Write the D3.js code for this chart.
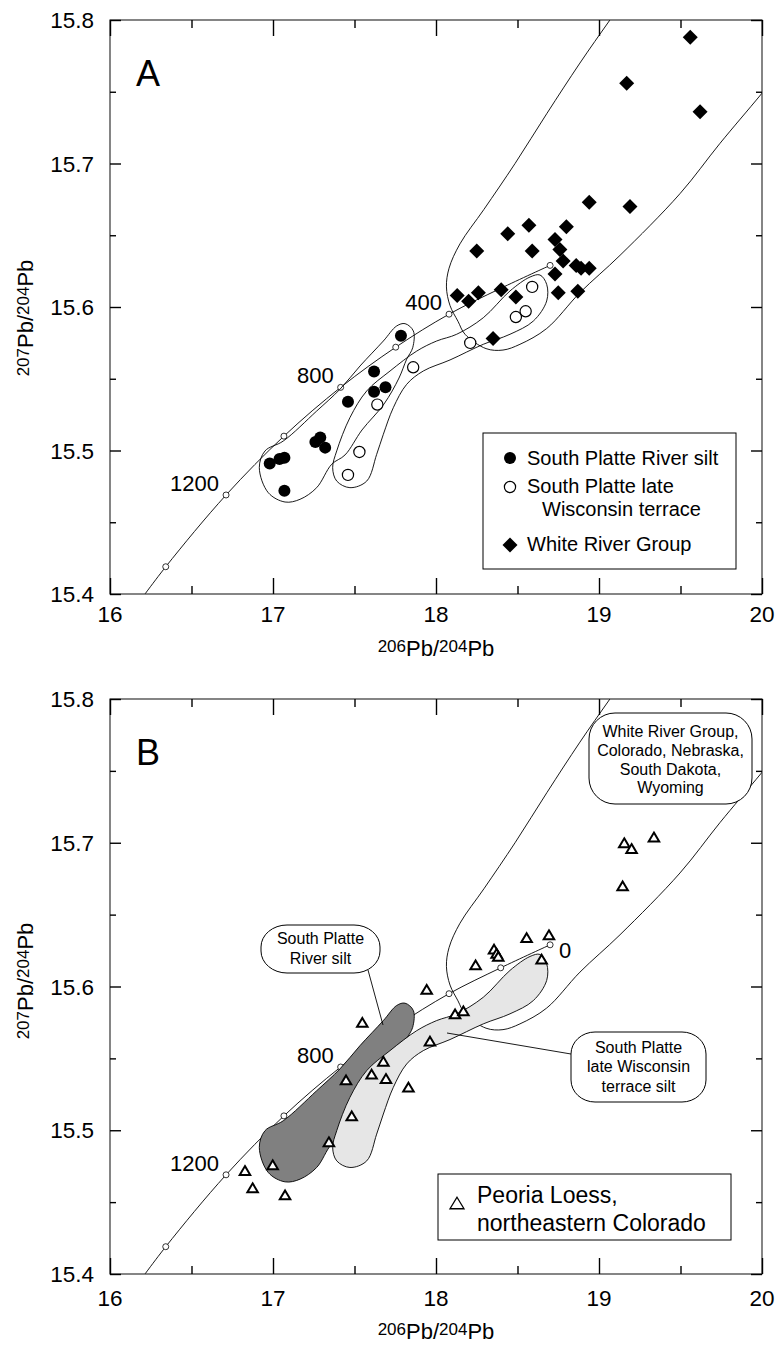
<!DOCTYPE html>
<html>
<head>
<meta charset="utf-8">
<script src="https://cdn.jsdelivr.net/npm/d3@7"></script>
<style>
  body { margin: 0; background: #fff; }
  svg { display: block; }
  text { font-family: "Liberation Sans", Arial, Helvetica, sans-serif; fill: #000; }
</style>
</head>
<body>
<div id="chart"></div>
<script>
// ---- data ----
const xDomain = [16, 20];
const yDomain = [15.4, 15.8];
const xMajor = [16, 17, 18, 19, 20];
const xMinor = [16.5, 17.5, 18.5, 19.5];
const yMajor = [15.4, 15.5, 15.6, 15.7, 15.8];
const yMinor = [15.45, 15.55, 15.65, 15.75];

// 206Pb/204Pb, 207Pb/204Pb
const riverSilt = [[16.98,15.491],[17.04,15.494],[17.07,15.495],[17.07,15.472],[17.26,15.506],
  [17.29,15.509],[17.32,15.502],[17.46,15.534],[17.62,15.555],[17.62,15.541],[17.69,15.544],[17.785,15.580]];
const terrace = [[17.64,15.532],[17.53,15.499],[17.46,15.483],[17.86,15.558],[18.21,15.575],
  [18.49,15.593],[18.55,15.597],[18.59,15.614]];
const whiteRiver = [[19.56,15.788],[19.17,15.756],[19.62,15.736],[18.94,15.673],[19.19,15.670],
  [18.25,15.639],[18.44,15.651],[18.57,15.657],[18.80,15.656],[18.59,15.639],[18.73,15.647],
  [18.76,15.640],[18.78,15.632],[18.86,15.629],[18.89,15.627],[18.94,15.627],[18.73,15.623],
  [18.13,15.608],[18.20,15.604],[18.26,15.610],[18.40,15.612],[18.49,15.607],[18.75,15.610],
  [18.87,15.611],[18.35,15.578]];
const peoriaLoess = [[19.155,15.700],[19.200,15.696],[19.337,15.704],[19.145,15.670],[18.556,15.634],
  [18.693,15.636],[18.356,15.626],[18.372,15.623],[18.382,15.621],[18.243,15.615],[18.648,15.619],
  [17.943,15.598],[17.548,15.575],[18.117,15.581],[18.168,15.583],[17.963,15.562],[17.677,15.548],
  [17.605,15.539],[17.693,15.536],[17.448,15.535],[17.831,15.530],[17.483,15.510],[17.343,15.492],
  [16.998,15.476],[16.875,15.460],[17.074,15.455],[16.828,15.472]];

// growth curve: age (Ma), 206/204, 207/204
const growthCurve = [[0,18.700,15.629],[200,18.397,15.613],[400,18.080,15.595],[600,17.753,15.572],
  [800,17.415,15.544],[1000,17.067,15.510],[1200,16.712,15.469],[1400,16.342,15.419]];
const growthTail = [16.15, 15.39]; // curve runs on past the axis
const ageLabelsA = [1200, 800, 400];
const ageLabelsB = [1200, 800, 0];

// field outlines
const riverSiltEnvelope = [[17.810,15.5884],[17.861,15.5833],[17.857,15.5716],[17.820,15.5636],
  [17.773,15.5505],[17.681,15.5324],[17.546,15.5143],[17.442,15.4969],[17.360,15.4904],[17.268,15.4741],
  [17.166,15.4660],[17.074,15.4641],[16.971,15.4706],[16.916,15.4880],[16.951,15.4997],[17.063,15.5066],
  [17.268,15.5275],[17.411,15.5427],[17.534,15.5589],[17.677,15.5763],[17.759,15.5868]];
const terraceEnvelope = [[18.638,15.6223],[18.679,15.6158],[18.679,15.6042],[18.597,15.5902],
  [18.454,15.5810],[18.290,15.5740],[18.086,15.5631],[17.922,15.5554],[17.820,15.5461],[17.738,15.5298],
  [17.677,15.5113],[17.636,15.4973],[17.575,15.4787],[17.472,15.4741],[17.391,15.4787],[17.366,15.4880],
  [17.391,15.4997],[17.472,15.5229],[17.575,15.5415],[17.718,15.5554],[17.882,15.5693],[18.004,15.5763],
  [18.127,15.5810],[18.290,15.5925],[18.454,15.6112],[18.577,15.6209]];
const whiteRiverEnvelope = [[19.313,15.839],[19.067,15.800],[18.883,15.770],[18.681,15.735],
  [18.485,15.700],[18.294,15.668],[18.147,15.644],[18.080,15.627],[18.064,15.614],[18.086,15.601],
  [18.135,15.590],[18.178,15.581],[18.307,15.571],[18.411,15.570],[18.515,15.574],[18.679,15.585],
  [18.883,15.610],[19.129,15.636],[19.497,15.679],[19.742,15.714],[20.000,15.749],[20.417,15.807],
  [19.988,15.856]];

const legendA = ["South Platte River silt", "South Platte late", "Wisconsin terrace", "White River Group"];
const legendB = ["Peoria Loess,", "northeastern Colorado"];
const calloutRiver = ["South Platte", "River silt"];
const calloutWhite = ["White River Group,", "Colorado, Nebraska,", "South Dakota,", "Wyoming"];
const calloutTerrace = ["South Platte", "late Wisconsin", "terrace silt"];

// ---- layout ----
const width = 776, height = 1346;
const left = 110, right = 762;

const svg = d3.select("#chart").append("svg")
  .attr("width", width).attr("height", height);

function diamond(r) { return `M0,${-r}L${r},0L0,${r}L${-r},0Z`; }
function triangle(s, h) { return `M0,${-h/2}L${s/2},${h/2}L${-s/2},${h/2}Z`; }

function drawPanel(cfg) {
  const x = d3.scaleLinear().domain(xDomain).range([left, right]);
  const y = d3.scaleLinear().domain(yDomain).range([cfg.bottom, cfg.top]);
  const g = svg.append("g");

  const clipId = "clip" + cfg.letter;
  g.append("clipPath").attr("id", clipId).append("rect")
    .attr("x", left).attr("y", cfg.top)
    .attr("width", right - left).attr("height", cfg.bottom - cfg.top);
  const plot = g.append("g").attr("clip-path", `url(#${clipId})`);

  const closed = d3.line().x(d => x(d[0])).y(d => y(d[1])).curve(d3.curveCatmullRomClosed.alpha(0.5));

  // White River Group field
  plot.append("path").attr("d", closed(whiteRiverEnvelope))
    .attr("fill", "none").attr("stroke", "#000").attr("stroke-width", 0.9);

  // growth curve
  const curvePts = growthCurve.map(d => [d[1], d[2]]).concat([growthTail]);
  plot.append("path")
    .attr("d", d3.line().x(d => x(d[0])).y(d => y(d[1])).curve(d3.curveCatmullRom.alpha(0.5))(curvePts))
    .attr("fill", "none").attr("stroke", "#000").attr("stroke-width", 0.9);
  plot.selectAll(".age").data(growthCurve).enter().append("circle")
    .attr("cx", d => x(d[1])).attr("cy", d => y(d[2])).attr("r", 3)
    .attr("fill", "#fff").attr("stroke", "#000").attr("stroke-width", 0.8);

  if (cfg.filled) {
    plot.append("path").attr("d", closed(riverSiltEnvelope))
      .attr("fill", "#808080").attr("stroke", "#000").attr("stroke-width", 0.9);
    plot.append("path").attr("d", closed(terraceEnvelope))
      .attr("fill", "#e6e6e6").attr("stroke", "#000").attr("stroke-width", 0.9);
  } else {
    [riverSiltEnvelope, terraceEnvelope].forEach(env => {
      plot.append("path").attr("d", closed(env))
        .attr("fill", "none").attr("stroke", "#000").attr("stroke-width", 0.9);
    });
  }

  // age labels on the growth curve
  const labelled = growthCurve.filter(d => cfg.ages.indexOf(d[0]) >= 0);
  g.selectAll(".agelabel").data(labelled).enter().append("text")
    .attr("x", d => d[0] === 0 ? x(d[1]) + 9 : x(d[1]) - 7)
    .attr("y", d => d[0] === 0 ? y(d[2]) + 13 : y(d[2]) - 4)
    .attr("text-anchor", d => d[0] === 0 ? "start" : "end")
    .attr("font-size", 22)
    .text(d => d[0]);

  // points
  if (cfg.letter === "A") {
    g.selectAll(".silt").data(riverSilt).enter().append("circle")
      .attr("cx", d => x(d[0])).attr("cy", d => y(d[1])).attr("r", 6).attr("fill", "#000");
    g.selectAll(".terr").data(terrace).enter().append("circle")
      .attr("cx", d => x(d[0])).attr("cy", d => y(d[1])).attr("r", 5.6)
      .attr("fill", "#fff").attr("stroke", "#000").attr("stroke-width", 1.2);
    g.selectAll(".wrg").data(whiteRiver).enter().append("path")
      .attr("d", diamond(7.5))
      .attr("transform", d => `translate(${x(d[0])},${y(d[1])})`)
      .attr("fill", "#000");
  } else {
    g.selectAll(".loess").data(peoriaLoess).enter().append("path")
      .attr("d", triangle(10.5, 8.8))
      .attr("transform", d => `translate(${x(d[0])},${y(d[1])})`)
      .attr("fill", "#fff").attr("stroke", "#000").attr("stroke-width", 2)
      .attr("stroke-linejoin", "miter");
  }

  // frame
  g.append("rect").attr("x", left).attr("y", cfg.top)
    .attr("width", right - left).attr("height", cfg.bottom - cfg.top)
    .attr("fill", "none").attr("stroke", "#222").attr("stroke-width", 1.1);

  // ticks pointing inward on all sides
  function ticks(axis, vals, size, transform) {
    const a = g.append("g").attr("transform", transform)
      .call(axis.tickValues(vals).tickSize(size).tickFormat(""));
    a.select(".domain").remove();
    a.selectAll("line").attr("stroke", "#000").attr("stroke-width", 1.4);
  }
  ticks(d3.axisBottom(x), xMajor, -16, `translate(0,${cfg.bottom})`);
  ticks(d3.axisBottom(x), xMinor, -8, `translate(0,${cfg.bottom})`);
  ticks(d3.axisTop(x), xMajor, -16, `translate(0,${cfg.top})`);
  ticks(d3.axisTop(x), xMinor, -8, `translate(0,${cfg.top})`);
  ticks(d3.axisLeft(y), yMajor, -11, `translate(${left},0)`);
  ticks(d3.axisLeft(y), yMinor, -6, `translate(${left},0)`);
  ticks(d3.axisRight(y), yMajor, -11, `translate(${right},0)`);
  ticks(d3.axisRight(y), yMinor, -6, `translate(${right},0)`);

  // tick labels
  g.selectAll(".xl").data(xMajor).enter().append("text")
    .attr("x", d => x(d)).attr("y", cfg.bottom + cfg.xLabelGap)
    .attr("text-anchor", "middle").attr("font-size", 22.5)
    .text(d => d3.format("d")(d));
  g.selectAll(".yl").data(yMajor).enter().append("text")
    .attr("x", left - 16).attr("y", d => y(d)).attr("dy", "0.36em")
    .attr("text-anchor", "end").attr("font-size", 22.5)
    .text(d => d3.format(".1f")(d));

  // axis titles
  const xt = g.append("text").attr("x", (left + right) / 2).attr("y", cfg.xTitleY)
    .attr("text-anchor", "middle").attr("font-size", 22);
  xt.append("tspan").attr("font-size", 17).attr("dy", -4).text("206");
  xt.append("tspan").attr("dy", 4).text("Pb/");
  xt.append("tspan").attr("font-size", 17).attr("dy", -4).text("204");
  xt.append("tspan").attr("dy", 4).text("Pb");

  const yt = g.append("text")
    .attr("transform", `translate(33,${cfg.yTitleY}) rotate(-90)`)
    .attr("text-anchor", "middle").attr("font-size", 22);
  yt.append("tspan").attr("font-size", 17).attr("dy", -4).text("207");
  yt.append("tspan").attr("dy", 4).text("Pb/");
  yt.append("tspan").attr("font-size", 17).attr("dy", -4).text("204");
  yt.append("tspan").attr("dy", 4).text("Pb");

  // panel letter
  g.append("text").attr("x", 136).attr("y", cfg.top + 66)
    .attr("font-size", 36).text(cfg.letter);

  return g;
}

// ---- panel A ----
const gA = drawPanel({letter: "A", top: 20, bottom: 594, filled: false, ages: ageLabelsA,
  xLabelGap: 28, xTitleY: 656, yTitleY: 318});

const legA = gA.append("g");
legA.append("rect").attr("x", 483).attr("y", 433).attr("width", 253).attr("height", 136)
  .attr("fill", "#fff").attr("stroke", "#000").attr("stroke-width", 1);
legA.append("circle").attr("cx", 510).attr("cy", 458).attr("r", 6).attr("fill", "#000");
legA.append("circle").attr("cx", 510).attr("cy", 487).attr("r", 5.6)
  .attr("fill", "#fff").attr("stroke", "#000").attr("stroke-width", 1.2);
legA.append("path").attr("d", diamond(7.5)).attr("transform", "translate(510,545)").attr("fill", "#000");
[[527, 465], [527, 493], [542, 516], [527, 551]].forEach((p, i) => {
  legA.append("text").attr("x", p[0]).attr("y", p[1]).attr("font-size", 20).text(legendA[i]);
});

// ---- panel B ----
const gB = drawPanel({letter: "B", top: 699, bottom: 1274, filled: true, ages: ageLabelsB,
  xLabelGap: 32, xTitleY: 1339, yTitleY: 981});

function callout(g, box, lines, lineY, rx, ry, leader) {
  if (leader) {
    g.append("line").attr("x1", leader[0]).attr("y1", leader[1])
      .attr("x2", leader[2]).attr("y2", leader[3])
      .attr("stroke", "#000").attr("stroke-width", 0.9);
  }
  g.append("rect").attr("x", box[0]).attr("y", box[1]).attr("width", box[2]).attr("height", box[3])
    .attr("rx", rx).attr("ry", ry)
    .attr("fill", "#fff").attr("stroke", "#000").attr("stroke-width", 1);
  lines.forEach((t, i) => {
    g.append("text").attr("x", box[0] + box[2] / 2).attr("y", lineY[i])
      .attr("text-anchor", "middle").attr("font-size", 16).text(t);
  });
}
callout(gB, [261, 925, 119, 48], calloutRiver, [944, 964], 26, 22, [368, 970, 383, 1025]);
callout(gB, [589, 713, 163, 91], calloutWhite, [737, 756, 775, 793], 26, 26, null);
callout(gB, [571, 1032, 135, 70], calloutTerrace, [1053, 1072, 1092], 24, 22, [571, 1054, 447, 1033]);

const legB = gB.append("g");
legB.append("rect").attr("x", 438).attr("y", 1174).attr("width", 293).attr("height", 66)
  .attr("fill", "#fff").attr("stroke", "#000").attr("stroke-width", 1);
legB.append("path").attr("d", triangle(14, 11.5)).attr("transform", "translate(457,1203)")
  .attr("fill", "#fff").attr("stroke", "#000").attr("stroke-width", 1.3);
legB.append("text").attr("x", 477).attr("y", 1203).attr("font-size", 23).text(legendB[0]);
legB.append("text").attr("x", 477).attr("y", 1231).attr("font-size", 23).text(legendB[1]);
</script>
</body>
</html>
